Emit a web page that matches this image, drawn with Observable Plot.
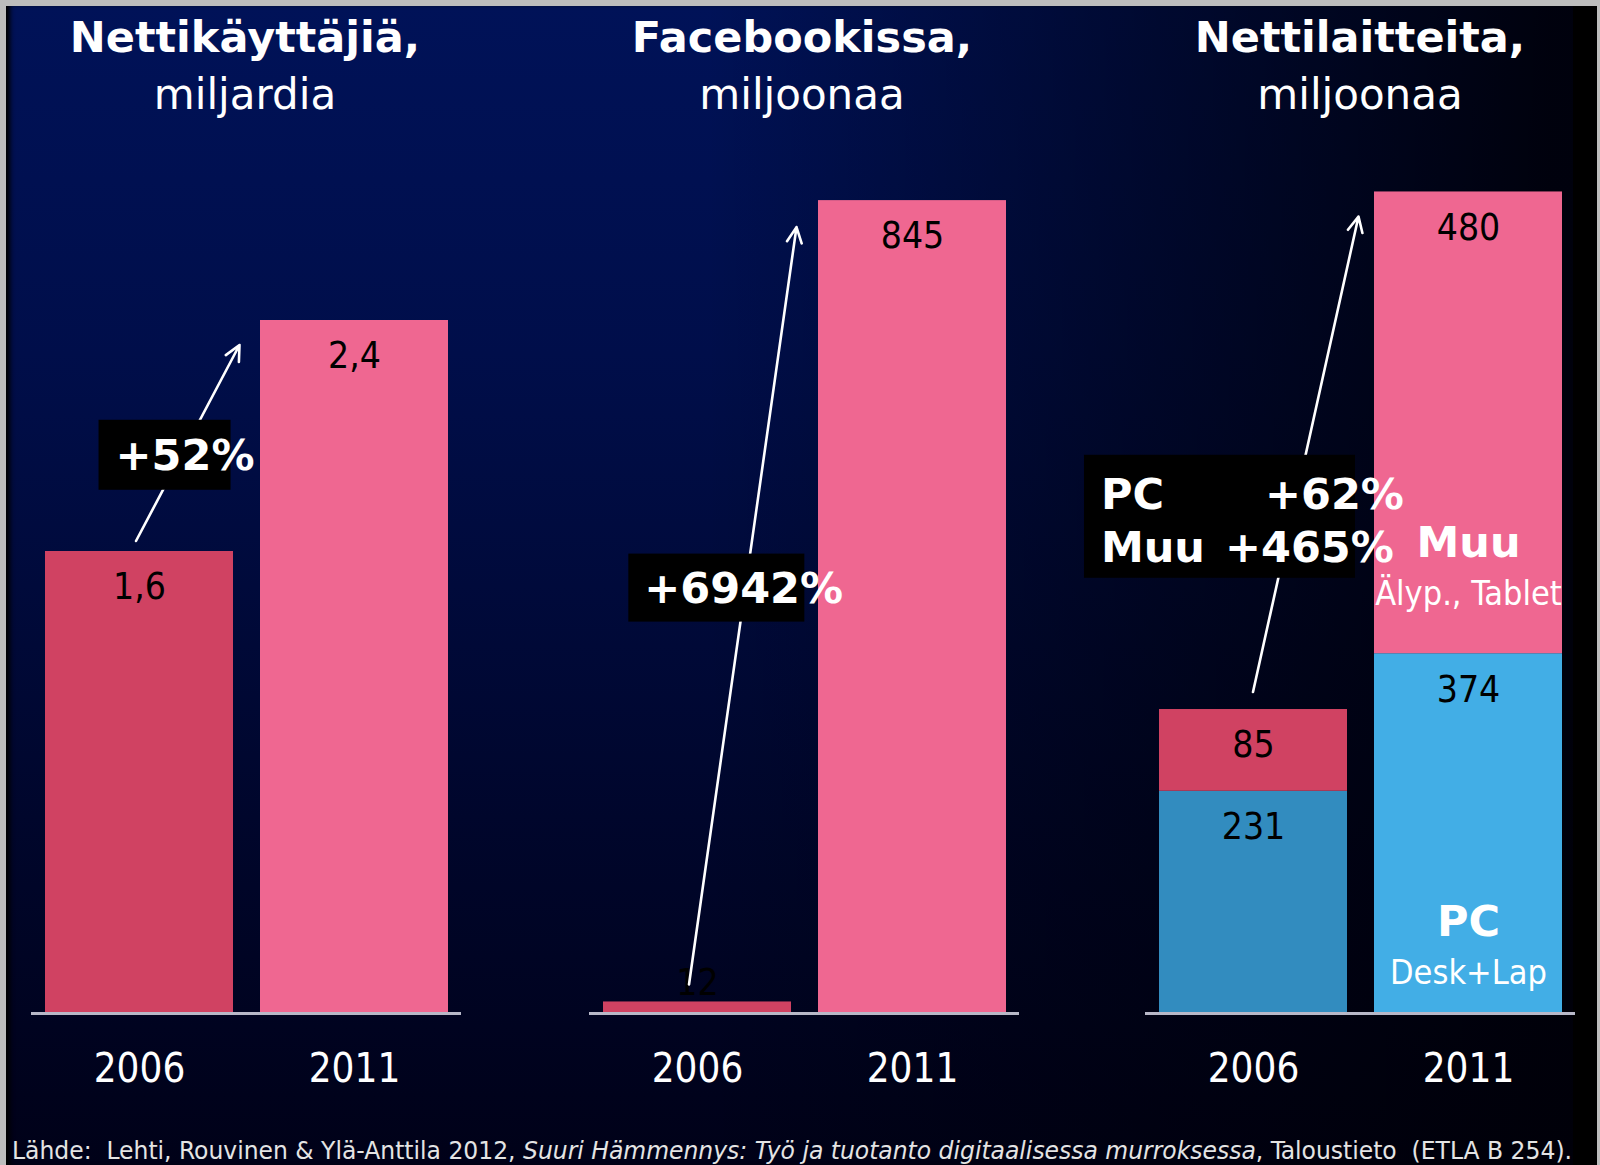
<!DOCTYPE html>
<html>
<head>
<meta charset="utf-8">
<script src="https://cdn.jsdelivr.net/npm/d3@7"></script>
<script src="https://cdn.jsdelivr.net/npm/@observablehq/plot@0.6"></script>
<style>
html, body { margin: 0; padding: 0; background: #bdbdbd; }
#frame { position: relative; width: 1600px; height: 1165px; overflow: hidden; background: #bdbdbd;
  font-family: "DejaVu Sans", sans-serif; }
#bg { position: absolute; left: 6px; top: 6px; width: 1591px; height: 1159px;
  background:
    linear-gradient(to right, rgba(0,0,8,0) 0%, rgba(0,0,8,0) 44%, rgba(0,0,8,0.93) 97%),
    linear-gradient(to bottom, #001258 0%, #000e4a 30%, #00062c 70%, #000118 100%);
  box-shadow: inset 6px 0 5px -2px #000; }
#strip { position: absolute; left: 1573px; top: 6px; width: 24px; height: 1159px; background: #000; }
.title { position: absolute; width: 500px; text-align: center; color: #fff; line-height: 1; white-space: nowrap; }
.t1 { font-weight: bold; font-size: 43px; }
.t2 { font-size: 42px; }
.panel { position: absolute; top: 130px; }
#caption { position: absolute; left: 12px; top: 1138px; color: #e4e4e4; font-size: 25px; line-height: 1;
  font-family: "DejaVu Sans Condensed", "DejaVu Sans", sans-serif; font-stretch: condensed;
  white-space: pre; transform-origin: 0 0; }
</style>
</head>
<body>
<div id="frame"><div id="bg"></div><div id="strip"></div></div>
<script>
// ---------- data ----------
const years = ["2006", "2011"];
const titleBold = ["Nettikäyttäjiä,", "Facebookissa,", "Nettilaitteita,"];
const titleUnit = ["miljardia", "miljoonaa", "miljoonaa"];
const usersBillion = [1.6, 2.4];        // Nettikäyttäjiä, miljardia
const facebookMillion = [12, 845];      // Facebookissa, miljoonaa
const devicesPC = [231, 374];           // Nettilaitteita: PC (Desk+Lap)
const devicesMuu = [85, 480];           // Nettilaitteita: Muu (Älyp., Tablet)
const growthUsers = ["+52%"];
const growthFacebook = ["+6942%"];
const growthDevices = ["PC", "+62%", "Muu", "+465%"];
const seriesNames = ["PC", "Muu"];
const seriesSubtitles = ["Desk+Lap", "Älyp., Tablet"];
const captionParts = ["Lähde:  Lehti, Rouvinen & Ylä-Anttila 2012, ",
  "Suuri Hämmennys: Työ ja tuotanto digitaalisessa murroksessa",
  ", Taloustieto  (ETLA B 254)."];

// ---------- styles ----------
const palette = {
  total: {"2006": "#d04262", "2011": "#ef6791"},
  Muu:   {"2006": "#d04262", "2011": "#ef6791"},
  PC:    {"2006": "#328cbf", "2011": "#42aee6"}
};
const FONT = '"DejaVu Sans", sans-serif';
const FONT_C = '"DejaVu Sans Condensed", "DejaVu Sans", sans-serif';

// ---------- tables ----------
const rowsUsers = years.map((year, i) => ({year, series: "total", value: usersBillion[i]}));
const rowsFacebook = years.map((year, i) => ({year, series: "total", value: facebookMillion[i]}));
const rowsDevices = [
  ...years.map((year, i) => ({year, series: "PC", value: devicesPC[i]})),
  ...years.map((year, i) => ({year, series: "Muu", value: devicesMuu[i]}))
];
const fmt = v => String(v).replace(".", ",");

// ---------- annotation (arrow + black box) ----------
function growthMark(tops, lines, cfg) {
  return (index, scales) => {
    const x = scales.x, y = scales.y;
    const bw = x.bandwidth ? x.bandwidth() : 0;
    const gapC = (x(years[0]) + bw + x(years[1])) / 2;
    const sx = x(years[0]) + bw / 2 + cfg.startDx, sy = y(tops[0]) + cfg.startDy;
    const tx = gapC + cfg.tipDx, ty = y(tops[1]) + cfg.tipDy;
    const ang = Math.atan2(ty - sy, tx - sx);
    const hl = 17, ha = 0.45;
    const h1 = [tx - hl * Math.cos(ang - ha), ty - hl * Math.sin(ang - ha)];
    const h2 = [tx - hl * Math.cos(ang + ha), ty - hl * Math.sin(ang + ha)];
    const g = d3.create("svg:g");
    g.append("path")
      .attr("d", `M${sx},${sy}L${tx},${ty}M${h1[0]},${h1[1]}L${tx},${ty}L${h2[0]},${h2[1]}`)
      .attr("fill", "none").attr("stroke", "#fff").attr("stroke-width", 2.6)
      .attr("stroke-linecap", "round").attr("stroke-linejoin", "round");
    const cy = sy + cfg.t * (ty - sy), ax = sx + cfg.t * (tx - sx);
    const right = ax + cfg.rightOff, left = right - cfg.w, top = cy - cfg.h / 2;
    g.append("rect").attr("x", left).attr("y", top).attr("width", cfg.w).attr("height", cfg.h).attr("fill", "#000");
    lines.forEach((txt, i) => {
      const p = cfg.textPos[i];
      g.append("text").attr("x", left + p[0]).attr("y", cy + p[1]).attr("dy", "0.36em")
        .attr("text-anchor", "start")
        .attr("fill", "#fff").attr("font-weight", "bold").attr("font-size", 43)
        .attr("font-family", FONT).text(txt);
    });
    return g.node();
  };
}

// ---------- panel builder ----------
function panel(rows, yMax, ml, mr, annotation, extra = []) {
  return Plot.plot({
    width: ml + 430 + mr, height: 970,
    marginLeft: ml, marginRight: mr, marginTop: 0, marginBottom: 87,
    style: {background: "transparent", overflow: "visible", fontSize: "40px", color: "#fff", fontFamily: FONT_C},
    x: {domain: years, paddingInner: 27 / 215, paddingOuter: 13.5 / 215, tickSize: 0, tickPadding: 40, label: null},
    y: {domain: [0, yMax], axis: null},
    marks: [
      Plot.barY(rows, {x: "year", y: "value", z: "series", fill: d => palette[d.series][d.year]}),
      Plot.ruleY([0], {stroke: "#b8b8c8", strokeWidth: 3}),
      Plot.text(rows, Plot.stackY2({x: "year", y: "value", z: "series",
        text: d => d.value / yMax > 0.05 ? fmt(d.value) : "", dy: 36, fill: "#000", fontSize: 37, fontFamily: FONT_C})),
      Plot.text(rows, Plot.stackY2({x: "year", y: "value", z: "series",
        text: d => d.value / yMax > 0.05 ? "" : fmt(d.value), dy: -19, fill: "#000", fontSize: 37, fontFamily: FONT_C})),
      annotation,
      ...extra
    ]
  });
}

const frame = document.getElementById("frame");
function place(node, left) {
  const d = document.createElement("div");
  d.className = "panel"; d.style.left = left + "px";
  d.appendChild(node); frame.appendChild(d);
}

// Panel 1
place(panel(rowsUsers, 883 / 288.75, 20, 20,
  growthMark(usersBillion, growthUsers,
    {startDx: -3, startDy: -10, tipDx: -7, tipDy: 25, t: 0.44, w: 132, h: 70, rightOff: 49, textPos: [[17, 0]]})), 11);

// Panel 2
place(panel(rowsFacebook, 883 / 0.962, 20, 20,
  growthMark(facebookMillion, growthFacebook,
    {startDx: -8, startDy: -17, tipDx: -8, tipDy: 27, t: 0.524, w: 176, h: 68, rightOff: 59, textPos: [[16, 0]]})), 569);

// Panel 3
const devTotals = years.map((y, i) => devicesPC[i] + devicesMuu[i]);
const seriesLabelRows = seriesNames.map((name, i) => ({name, sub: seriesSubtitles[i]}));
const labelY = d => d.name === "PC" ? 0 : devicesPC[1];
const pcRow = seriesLabelRows.filter(d => d.name === "PC");
const muuRow = seriesLabelRows.filter(d => d.name === "Muu");
place(panel(rowsDevices, 883 / 0.962, 80, 20,
  growthMark(devTotals, growthDevices,
    {startDx: 0, startDy: -17, tipDx: -2, tipDy: 25, t: 0.3695, w: 271, h: 123, rightOff: 63,
     textPos: [[17, -23], [181, -23], [17, 30], [141, 30]]}),
  [
    Plot.text(pcRow, {x: () => years[1], y: labelY, text: "name",
      dy: -91, fill: "#fff", fontWeight: "bold", fontSize: 43, fontFamily: FONT}),
    Plot.text(pcRow, {x: () => years[1], y: labelY, text: "sub",
      dy: -40, fill: "#fff", fontSize: 34, fontFamily: FONT_C}),
    Plot.text(muuRow, {x: () => years[1], y: labelY, text: "name",
      dy: -110, fill: "#fff", fontWeight: "bold", fontSize: 43, fontFamily: FONT}),
    Plot.text(muuRow, {x: () => years[1], y: labelY, text: "sub",
      dy: -60, fill: "#fff", fontSize: 34, fontFamily: FONT_C})
  ]), 1065);

// Titles
const centers = [245, 802, 1360];
centers.forEach((c, i) => {
  const a = document.createElement("div");
  a.className = "title t1"; a.style.left = (c - 250) + "px"; a.style.top = "16px"; a.textContent = titleBold[i];
  const b = document.createElement("div");
  b.className = "title t2"; b.style.left = (c - 250) + "px"; b.style.top = "73.5px"; b.textContent = titleUnit[i];
  frame.appendChild(a); frame.appendChild(b);
});

// Caption
const cap = document.createElement("div");
cap.id = "caption";
cap.appendChild(document.createTextNode(captionParts[0]));
const em = document.createElement("i"); em.textContent = captionParts[1]; cap.appendChild(em);
cap.appendChild(document.createTextNode(captionParts[2]));
frame.appendChild(cap);
const w = cap.getBoundingClientRect().width;
cap.style.transform = `scaleX(${1560 / w})`;
</script>
</body>
</html>
